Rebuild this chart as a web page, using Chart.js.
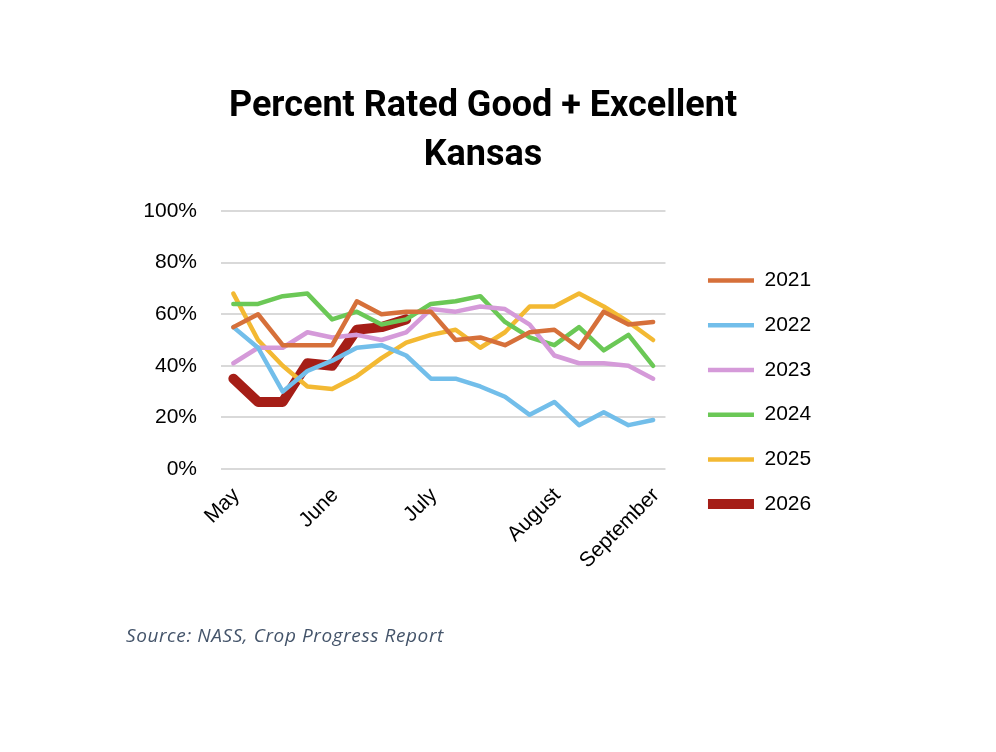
<!DOCTYPE html>
<html>
<head>
<meta charset="utf-8">
<script src="https://cdn.jsdelivr.net/npm/chart.js@4.4.1/dist/chart.umd.min.js"></script>
<style>
  html, body { margin: 0; padding: 0; background: #fff; }
  #wrap { position: relative; width: 996px; height: 752px; }
  #source {
    position: absolute; left: 126px; top: 622px;
    font-family: "Open Sans", sans-serif; font-style: italic;
    font-size: 19px; letter-spacing: 0.6px; color: #44546a; white-space: nowrap;
  }
</style>
</head>
<body>
<div id="wrap">
  <canvas id="chartKansas" width="996" height="752"></canvas>
  <div id="source">Source: NASS, Crop Progress Report</div>
</div>
<script>
// weekly crop ratings, % good + excellent
const weeks = [
  "May", "", "", "", "June", "", "", "", "July",
  "", "", "", "", "August", "", "", "", "September"
];
const years = ["2021", "2022", "2023", "2024", "2025", "2026"];

const y2021 = [55, 60, 48, 48, 48, 65, 60, 61, 61, 50, 51, 48, 53, 54, 47, 61, 56, 57];
const y2022 = [55, 47, 30, 38, 42, 47, 48, 44, 35, 35, 32, 28, 21, 26, 17, 22, 17, 19];
const y2023 = [41, 47, 47, 53, 51, 52, 50, 53, 62, 61, 63, 62, 56, 44, 41, 41, 40, 35];
const y2024 = [64, 64, 67, 68, 58, 61, 56, 58, 64, 65, 67, 57, 51, 48, 55, 46, 52, 40];
const y2025 = [68, 50, 40, 32, 31, 36, 43, 49, 52, 54, 47, 53, 63, 63, 68, 63, 57, 50];
const y2026 = [35, 26, 26, 41, 40, 54, 55, 58];

const yTicks = [0, 20, 40, 60, 80, 100];

const series = [y2021, y2022, y2023, y2024, y2025, y2026];
const colors = ["#d6703a", "#72beea", "#d59ad9", "#6bc856", "#f3b933", "#a51e17"];
const widths = [4.5, 4.5, 4.5, 4.5, 4.5, 10];

const chartKansas = document.getElementById("chartKansas");

new Chart(chartKansas, {
  type: "line",
  data: {
    labels: weeks,
    datasets: years.map((yr, i) => ({
      label: yr,
      data: series[i],
      borderColor: colors[i],
      backgroundColor: colors[i],
      borderWidth: widths[i],
      borderCapStyle: "round",
      borderJoinStyle: "round",
      pointRadius: 0,
      pointHoverRadius: 0,
      pointStyle: "line",
      tension: 0,
      fill: false,
    })),
  },
  options: {
    responsive: false,
    animation: false,
    layout: {
      padding: { left: 144.8, right: 174.8, top: 40, bottom: 7.3 },
    },
    plugins: {
      title: {
        display: true,
        text: ["Percent Rated Good + Excellent", "Kansas"],
        color: "#000",
        font: { family: "Roboto", size: 36, weight: "bold", lineHeight: 1.37 },
        padding: { top: 42.5, bottom: 29.9 },
      },
      legend: {
        position: "right",
        maxWidth: 300,
        labels: {
          usePointStyle: true,
          pointStyleWidth: 46,
          padding: 23.7,
          color: "#000",
          font: { family: "Liberation Sans", size: 21 },
        },
      },
      tooltip: { enabled: false },
    },
    scales: {
      x: {
        offset: true,
        grid: { display: false, drawTicks: false },
        border: { display: false },
        ticks: {
          autoSkip: false,
          maxRotation: 45,
          minRotation: 45,
          padding: 14,
          labelOffset: 3,
          color: "#000",
          font: { family: "Liberation Sans", size: 21 },
        },
        afterFit: (s) => { s.height = 275.7; },
      },
      y: {
        min: 0,
        max: 100,
        afterBuildTicks: (s) => { s.ticks = yTicks.map((v) => ({ value: v })); },
        grid: { color: "#d9d9d9", lineWidth: 2, drawTicks: false },
        border: { display: false },
        ticks: {
          padding: 24,
          color: "#000",
          font: { family: "Liberation Sans", size: 21 },
          callback: (v) => v + "%",
        },
        afterFit: (s) => { s.width = 76.2; },
      },
      gap: {
        position: "right",
        display: true,
        grid: { display: false, drawTicks: false },
        border: { display: false },
        ticks: { display: false },
        afterFit: (s) => { s.width = 18.8; },
      },
    },
  },
});
</script>
</body>
</html>
